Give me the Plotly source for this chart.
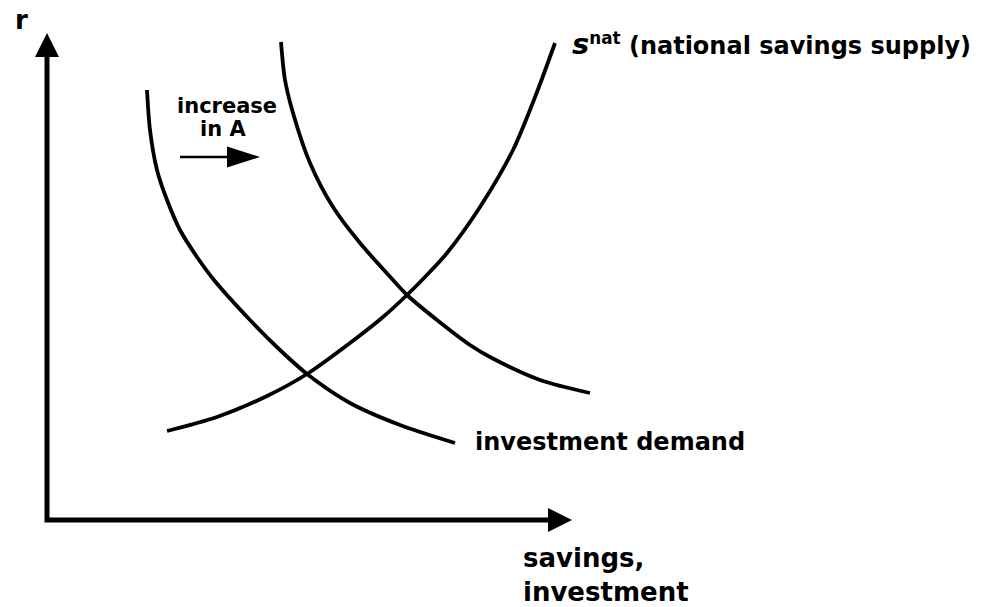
import plotly.graph_objects as go

# ---------------- data (chart units; origin at the axes corner) ----------------
invest1_x = [2.00, 2.06, 2.20, 2.40, 2.66, 3.00, 3.34, 4.06, 4.66, 5.20, 6.06, 7.06, 8.16]
invest1_y = [8.60, 7.80, 7.00, 6.40, 5.80, 5.26, 4.80, 4.00, 3.40, 2.92, 2.34, 1.90, 1.54]

invest2_x = [4.68, 4.76, 4.92, 5.26, 5.72, 6.26, 6.92, 7.20, 7.80, 8.46, 8.86, 9.86, 10.86]
invest2_y = [9.56, 8.80, 8.14, 7.14, 6.26, 5.54, 4.80, 4.50, 4.00, 3.50, 3.26, 2.80, 2.54]

savings_x = [2.40, 3.40, 4.40, 5.20, 6.06, 6.72, 7.20, 7.56, 8.00, 8.66, 9.32, 9.80, 10.16]
savings_y = [1.78, 2.06, 2.48, 2.92, 3.54, 4.06, 4.50, 4.86, 5.34, 6.26, 7.40, 8.56, 9.54]

x_axis_end = 10.50
y_axis_end = 9.74
shift_arrow_x = [2.66, 4.26]
shift_arrow_y = 7.26

y_label = "r"
x_label = "savings,<br>investment"
shift_label = ["increase", "in A"]
savings_label = ("<span style='font-size:29px'><i>s</i></span><sup>nat</sup>"
                 " (national savings supply)")
invest_label = "investment demand"

# ---------------- geometry / style ----------------
PAGE_OFFSET = 8               # default page margin around the plot div
W, H = 991 - PAGE_OFFSET, 607 - PAGE_OFFSET
PX = 50.0                     # pixels per chart unit
ORIGIN = (47 - PAGE_OFFSET, 520 - PAGE_OFFSET)   # axes corner inside the figure
x_range = [-ORIGIN[0] / PX, (W - ORIGIN[0]) / PX]
y_range = [-(H - ORIGIN[1]) / PX, ORIGIN[1] / PX]

FONT = "DejaVu Sans"
INK = "black"


def p2d(px, py):
    """page pixel -> chart units"""
    return (px - PAGE_OFFSET - ORIGIN[0]) / PX, (ORIGIN[1] - (py - PAGE_OFFSET)) / PX


def head(tx, ty, dx, dy, length_px, width_px):
    L, Wd = length_px / PX, width_px / PX
    bx, by = tx - dx * L, ty - dy * L
    nx, ny = -dy, dx
    return (f"M{tx},{ty} L{bx + nx * Wd / 2},{by + ny * Wd / 2} "
            f"L{bx - nx * Wd / 2},{by - ny * Wd / 2} Z")


fig = go.Figure()
for xs, ys in [(invest1_x, invest1_y), (invest2_x, invest2_y), (savings_x, savings_y)]:
    fig.add_trace(go.Scatter(x=xs, y=ys, mode="lines",
                             line=dict(color=INK, width=3.8, shape="spline", smoothing=0.8),
                             hoverinfo="skip", showlegend=False))

shapes = []
AH = 24 / PX
# axes
shapes.append(dict(type="path", xref="x", yref="y",
                   path=f"M0,{y_axis_end - AH + 0.02} L0,0 L{x_axis_end - AH + 0.02},0",
                   line=dict(color=INK, width=5)))
shapes.append(dict(type="path", xref="x", yref="y", path=head(0, y_axis_end, 0, 1, 24, 24),
                   fillcolor=INK, line=dict(color=INK, width=0)))
shapes.append(dict(type="path", xref="x", yref="y", path=head(x_axis_end, 0, 1, 0, 24, 24),
                   fillcolor=INK, line=dict(color=INK, width=0)))
# shift arrow
SH = 33 / PX
shapes.append(dict(type="line", xref="x", yref="y", x0=shift_arrow_x[0], y0=shift_arrow_y,
                   x1=shift_arrow_x[1] - SH + 0.02, y1=shift_arrow_y, line=dict(color=INK, width=2.5)))
shapes.append(dict(type="path", xref="x", yref="y",
                   path=head(shift_arrow_x[1], shift_arrow_y, 1, 0, 33, 21),
                   fillcolor=INK, line=dict(color=INK, width=0)))


def ann(text, px, py, size, xanchor="center", yanchor="middle", align="left"):
    x, y = p2d(px, py)
    return dict(text=text, x=x, y=y, xref="x", yref="y", showarrow=False,
                xanchor=xanchor, yanchor=yanchor, align=align,
                font=dict(family=FONT, size=size, color=INK, weight="bold"))


annotations = [
    ann(y_label, 21, 20, 26),
    ann(shift_label[0], 227, 106, 21),
    ann(shift_label[1], 223, 129, 21),
    ann(savings_label, 570, 44, 24, xanchor="left"),
    ann(invest_label, 473, 442, 24, xanchor="left"),
    ann(x_label, 521, 575, 26, xanchor="left"),
]

fig.update_layout(
    width=W, height=H,
    margin=dict(l=0, r=0, t=0, b=0),
    paper_bgcolor="white", plot_bgcolor="white",
    xaxis=dict(range=x_range, visible=False, fixedrange=True),
    yaxis=dict(range=y_range, visible=False, fixedrange=True),
    shapes=shapes, annotations=annotations,
    showlegend=False,
)

fig.write_html("out.html")
